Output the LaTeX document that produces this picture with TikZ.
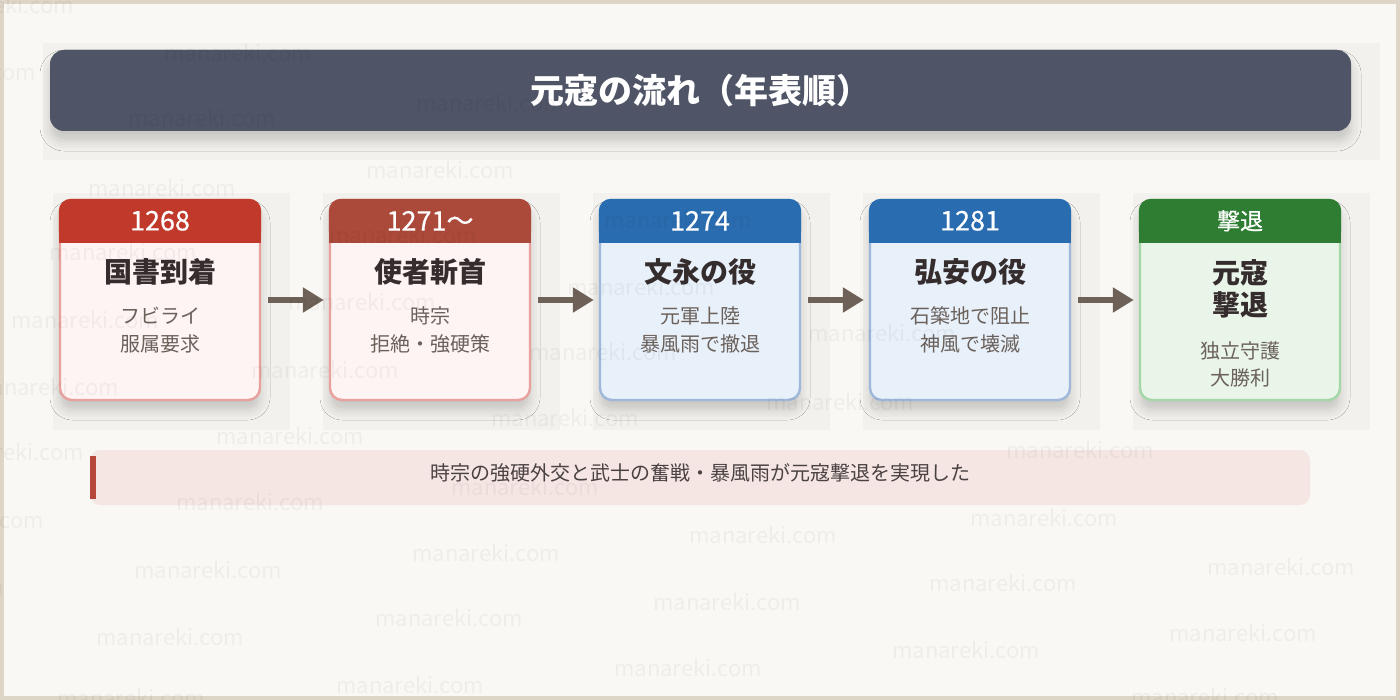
\documentclass[tikz,border=0pt]{standalone}
\usepackage{fontspec}
\setmainfont{Noto Sans CJK JP}
\newfontfamily\yearfont[FakeBold=0.5]{Noto Sans CJK JP}
\usetikzlibrary{arrows.meta,positioning,shadows.blur}

\definecolor{frameC}{HTML}{DDD5C6}
\definecolor{paperC}{HTML}{F9F8F4}
\definecolor{panelC}{HTML}{F2F1ED}
\definecolor{titleC}{HTML}{4F5566}
\definecolor{redH}{HTML}{C0392B}
\definecolor{brickH}{HTML}{AB4A3B}
\definecolor{blueH}{HTML}{2A6CB0}
\definecolor{greenH}{HTML}{2E7D32}
\definecolor{redF}{HTML}{FDF4F3}
\definecolor{redB}{HTML}{E8A19C}
\definecolor{blueF}{HTML}{E8F0FA}
\definecolor{blueB}{HTML}{9FB8DA}
\definecolor{greenF}{HTML}{E9F5E9}
\definecolor{greenB}{HTML}{A5D6A7}
\definecolor{headC}{HTML}{352D2D}
\definecolor{subC}{HTML}{6B615B}
\definecolor{arrowC}{HTML}{6D6158}
\definecolor{barC}{HTML}{F5E6E3}
\definecolor{accentC}{HTML}{B5473A}
\definecolor{sumC}{HTML}{4A4242}

\begin{document}
\begin{tikzpicture}[x=0.5pt, y=-0.5pt, node distance=135pt]
    % Styles
    \tikzstyle{softshadow} = [blur shadow={shadow xshift=0pt, shadow yshift=-5pt, shadow blur radius=5pt, shadow opacity=18}]
    \tikzstyle{card} = [rectangle, rounded corners=6pt, minimum width=100pt, minimum height=100pt, line width=1.2pt, softshadow]
    \tikzstyle{year} = [rectangle, rounded corners=6pt, minimum width=101.2pt, minimum height=22pt, inner sep=0pt, outer sep=0pt, text=white, font=\yearfont\fontsize{13.5}{15}\selectfont]
    \tikzstyle{heading} = [text=headC, font=\bfseries\fontsize{14}{16}\selectfont, align=center]
    \tikzstyle{detail} = [text=subC, font=\fontsize{10}{14}\selectfont, align=center]
    \tikzstyle{arrow} = [line width=3pt, draw=arrowC, -{Triangle[length=10.5pt, width=12pt]}, shorten <=3.5pt, shorten >=2.5pt]
    \tikzstyle{watermark} = [text=black, opacity=0.045, font=\fontsize{11}{13}\selectfont]

    % Background
    \useasboundingbox (0,0) rectangle (1400,700);
    \fill[frameC] (0,0) rectangle (1400,700);
    \fill[paperC] (4,4) rectangle (1396,696);
    \fill[panelC] (43,43) rectangle (1380,160);
    \foreach \x in {53,323,593,863,1133}
        \fill[panelC] (\x,193) rectangle ++(237,237);

    % Title
    \node (title) [rectangle, rounded corners=7pt, fill=titleC, minimum width=650.5pt, minimum height=40.5pt, text=white, font=\bfseries\fontsize{17}{20}\selectfont, softshadow] at (700.5,90.5) {元寇の流れ（年表順）};

    % Cards
    \node (kokusho) [card, fill=redF, draw=redB] at (160,300) {};
    \node (shisha) [card, right of=kokusho, fill=redF, draw=redB] {};
    \node (bunei) [card, right of=shisha, fill=blueF, draw=blueB] {};
    \node (koan) [card, right of=bunei, fill=blueF, draw=blueB] {};
    \node (gekitai) [card, right of=koan, fill=greenF, draw=greenB] {};

    % Headers
    \fill[redH] ([yshift=-10pt]kokusho.north west) rectangle ([yshift=-22pt]kokusho.north east);
    \node (kokusho-year) [year, fill=redH, anchor=north] at (kokusho.north) {1268};
    \fill[brickH] ([yshift=-10pt]shisha.north west) rectangle ([yshift=-22pt]shisha.north east);
    \node (shisha-year) [year, fill=brickH, anchor=north] at (shisha.north) {1271〜};
    \fill[blueH] ([yshift=-10pt]bunei.north west) rectangle ([yshift=-22pt]bunei.north east);
    \node (bunei-year) [year, fill=blueH, anchor=north] at (bunei.north) {1274};
    \fill[blueH] ([yshift=-10pt]koan.north west) rectangle ([yshift=-22pt]koan.north east);
    \node (koan-year) [year, fill=blueH, anchor=north] at (koan.north) {1281};
    \fill[greenH] ([yshift=-10pt]gekitai.north west) rectangle ([yshift=-22pt]gekitai.north east);
    \node (gekitai-year) [year, fill=greenH, anchor=north, font=\yearfont\fontsize{11.5}{13}\selectfont] at (gekitai.north) {撃退};

    % Texts
    \node (kokusho-title) [heading] at ([yshift=14pt]kokusho.center) {国書到着};
    \node (kokusho-detail) [detail] at ([yshift=-15pt]kokusho.center) {フビライ\\服属要求};
    \node (shisha-title) [heading] at ([yshift=14pt]shisha.center) {使者斬首};
    \node (shisha-detail) [detail] at ([yshift=-15pt]shisha.center) {時宗\\拒絶・強硬策};
    \node (bunei-title) [heading] at ([yshift=14pt]bunei.center) {文永の役};
    \node (bunei-detail) [detail] at ([yshift=-15pt]bunei.center) {元軍上陸\\暴風雨で撤退};
    \node (koan-title) [heading] at ([yshift=14pt]koan.center) {弘安の役};
    \node (koan-detail) [detail] at ([yshift=-15pt]koan.center) {石築地で阻止\\神風で壊滅};
    \node (gekitai-title) [heading] at ([yshift=5.5pt]gekitai.center) {元寇\\撃退};
    \node (gekitai-detail) [detail, font=\fontsize{10}{13.5}\selectfont] at ([yshift=-32pt]gekitai.center) {独立守護\\大勝利};

    % Arrows
    \draw [arrow] (kokusho) -- (shisha);
    \draw [arrow] (shisha) -- (bunei);
    \draw [arrow] (bunei) -- (koan);
    \draw [arrow] (koan) -- (gekitai);

    % Summary
    \node (summary) [rectangle, rounded corners=5pt, fill=barC, minimum width=610pt, minimum height=27.5pt] at (700,477.5) {};
    \fill[accentC] ([yshift=10.75pt]summary.west) rectangle ([xshift=3pt, yshift=-10.75pt]summary.west);
    \node (summary-text) [text=sumC, font=\fontsize{10}{12}\selectfont] at ([yshift=2.5pt]summary.center) {時宗の強硬外交と武士の奮戦・暴風雨が元寇撃退を実現した};

    % Watermarks
    \foreach \x/\y [count=\i] in {0/5, -38/72, 238/53, 202/118, 490/103, 440/170, 162/188, 403/235, 123/252, 678/220, 641/287, 362/302, 85/320, 603/352, 882/333, 325/370, 45/387, 840/402, 565/418, 290/436, 10/452, 1080/450, 525/487, 250/502, 1044/518, -30/520, 763/535, 486/553, 208/570, 1281/567, 1003/583, -70/587, 727/602, 449/618, 170/637, 1243/633, 966/650, 688/668, 410/685, 131/698, 1205/697}
        \node (wm\i) [watermark] at (\x,\y) {manareki.com};
\end{tikzpicture}
\end{document}
